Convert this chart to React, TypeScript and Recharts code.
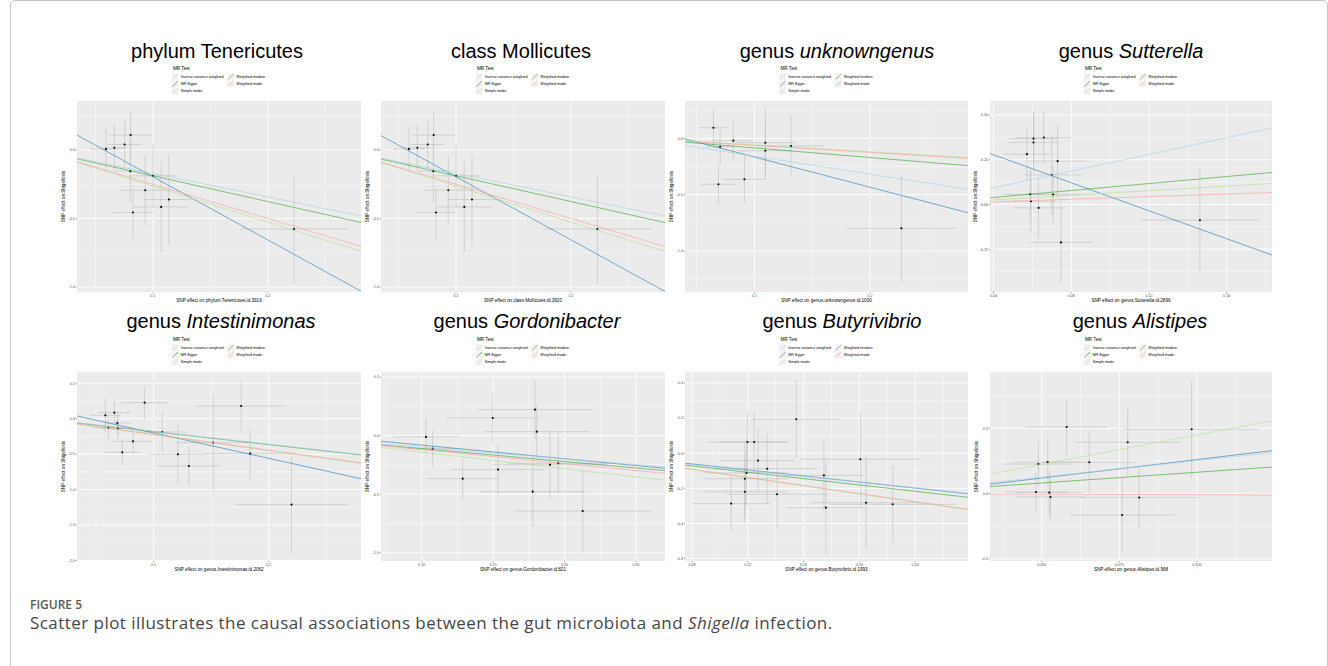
import { CartesianGrid, ErrorBar, Scatter, ScatterChart, XAxis, YAxis } from 'recharts'

const methods = ['Inverse variance weighted', 'MR Egger', 'Simple mode', 'Weighted median', 'Weighted mode']
const methodColors = ['#a6cee3', '#1f78b4', '#b2df8a', '#33a02c', '#fb9a99']
// lines are drawn in the order mr() returns them
const drawOrder = [1, 3, 0, 2, 4]

const ranks = ['phylum', 'class', 'genus', 'genus', 'genus', 'genus', 'genus', 'genus']
const taxa = ['Tenericutes', 'Mollicutes', 'unknowngenus', 'Sutterella', 'Intestinimonas', 'Gordonibacter', 'Butyrivibrio', 'Alistipes']
const exposures = [
  'phylum.Tenericutes.id.3919',
  'class.Mollicutes.id.3920',
  'genus.unknowngenus.id.1000',
  'genus.Sutterella.id.2896',
  'genus.Intestinimonas.id.2062',
  'genus.Gordonibacter.id.821',
  'genus.Butyrivibrio.id.1993',
  'genus.Alistipes.id.968',
]

// [beta exposure, beta outcome, se exposure, se outcome]
const tenericutesSnps = [
  [0.0591, 0.007, 0.0138, 0.16],
  [0.0664, 0.017, 0.011, 0.17],
  [0.0754, 0.041, 0.0148, 0.175],
  [0.0806, 0.11, 0.0188, 0.18],
  [0.0803, -0.154, 0.013, 0.23],
  [0.1, -0.188, 0.021, 0.23],
  [0.0933, -0.293, 0.022, 0.25],
  [0.0826, -0.456, 0.018, 0.19],
  [0.1072, -0.415, 0.024, 0.33],
  [0.1139, -0.361, 0.021, 0.33],
  [0.2229, -0.576, 0.047, 0.4],
]
const mollicutesSnps = [
  [0.0591, 0.007, 0.0138, 0.16],
  [0.0664, 0.017, 0.011, 0.17],
  [0.0754, 0.041, 0.0148, 0.175],
  [0.0806, 0.11, 0.0188, 0.18],
  [0.0803, -0.154, 0.013, 0.23],
  [0.1, -0.188, 0.021, 0.23],
  [0.0933, -0.293, 0.022, 0.25],
  [0.0826, -0.456, 0.018, 0.19],
  [0.1072, -0.415, 0.024, 0.33],
  [0.1139, -0.361, 0.021, 0.33],
  [0.2229, -0.576, 0.047, 0.4],
]
const unknowngenusSnps = [
  [0.0646, 0.094, 0.013, 0.156],
  [0.0704, -0.075, 0.012, 0.16],
  [0.0818, -0.021, 0.017, 0.17],
  [0.0689, -0.408, 0.015, 0.18],
  [0.0914, -0.364, 0.019, 0.21],
  [0.1095, -0.039, 0.026, 0.3],
  [0.1095, -0.11, 0.024, 0.25],
  [0.1317, -0.068, 0.0285, 0.27],
  [0.2271, -0.799, 0.047, 0.48],
]
const sutterellaSnps = [
  [0.0606, 0.368, 0.0124, 0.14],
  [0.0606, 0.346, 0.013, 0.17],
  [0.0659, 0.374, 0.014, 0.145],
  [0.0572, 0.281, 0.012, 0.15],
  [0.073, 0.242, 0.015, 0.2],
  [0.07, 0.165, 0.015, 0.22],
  [0.0589, 0.057, 0.014, 0.15],
  [0.0707, 0.056, 0.014, 0.16],
  [0.0593, 0.018, 0.013, 0.17],
  [0.0632, -0.019, 0.013, 0.17],
  [0.0747, -0.212, 0.016, 0.225],
  [0.1462, -0.088, 0.03, 0.29],
]
const intestinimonasSnps = [
  [0.0581, 0.047, 0.013, 0.24],
  [0.0659, 0.085, 0.014, 0.17],
  [0.0685, -0.061, 0.012, 0.17],
  [0.0607, -0.132, 0.012, 0.16],
  [0.0691, -0.132, 0.013, 0.17],
  [0.0821, -0.32, 0.017, 0.17],
  [0.0728, -0.475, 0.015, 0.18],
  [0.0922, 0.226, 0.02, 0.235],
  [0.1075, -0.188, 0.022, 0.28],
  [0.1211, -0.503, 0.025, 0.42],
  [0.1306, -0.667, 0.027, 0.27],
  [0.1517, -0.338, 0.031, 0.67],
  [0.176, 0.179, 0.039, 0.35],
  [0.1838, -0.493, 0.04, 0.34],
  [0.2197, -1.212, 0.049, 0.68],
]
const gordonibacterSnps = [
  [0.103, -0.011, 0.023, 0.157],
  [0.1077, -0.111, 0.018, 0.157],
  [0.1287, -0.367, 0.025, 0.175],
  [0.1497, 0.151, 0.033, 0.21],
  [0.1534, -0.29, 0.033, 0.21],
  [0.1793, 0.222, 0.04, 0.25],
  [0.1805, 0.034, 0.037, 0.23],
  [0.1777, -0.478, 0.037, 0.3],
  [0.1898, -0.248, 0.04, 0.3],
  [0.1956, -0.236, 0.035, 0.26],
  [0.2127, -0.643, 0.048, 0.356],
]
const butyrivibrioSnps = [
  [0.1548, 0.194, 0.032, 0.22],
  [0.1198, 0.064, 0.028, 0.17],
  [0.1246, 0.064, 0.025, 0.17],
  [0.1274, -0.042, 0.027, 0.18],
  [0.1339, -0.088, 0.036, 0.2],
  [0.1191, -0.112, 0.03, 0.19],
  [0.1179, -0.145, 0.03, 0.21],
  [0.1179, -0.219, 0.03, 0.18],
  [0.141, -0.234, 0.036, 0.195],
  [0.1081, -0.287, 0.028, 0.157],
  [0.1746, -0.126, 0.028, 0.2],
  [0.2007, -0.034, 0.043, 0.27],
  [0.176, -0.31, 0.028, 0.26],
  [0.2048, -0.282, 0.04, 0.26],
  [0.2239, -0.291, 0.045, 0.22],
]
const alistipesSnps = [
  [0.058, 0.51, 0.0132, 0.21],
  [0.0489, 0.227, 0.011, 0.17],
  [0.0519, 0.243, 0.011, 0.18],
  [0.0653, 0.24, 0.015, 0.24],
  [0.0777, 0.393, 0.017, 0.26],
  [0.0481, 0.013, 0.01, 0.15],
  [0.0524, 0.008, 0.011, 0.17],
  [0.0528, -0.025, 0.011, 0.17],
  [0.0759, -0.163, 0.017, 0.28],
  [0.0814, -0.03, 0.019, 0.24],
  [0.0983, 0.493, 0.022, 0.37],
]

// slopes in the order of `methods`; MR Egger also has an intercept
const slopes = [
  [-1.71, -4.61, -2.63, -1.88, -2.5],
  [-1.71, -4.61, -2.63, -1.88, -2.5],
  [-1.59, -2.68, -0.6, -0.853, -0.625],
  [2.33, -3.91, 0.64, 0.975, 0.365],
  [-1.8, -3.59, -2.26, -1.83, -2.22],
  [-0.99, -1.162, -1.41, -1.106, -1.19],
  [-0.82, -0.86, -1.16, -0.903, -1.148],
  [2.53, 2.83, 4.49, 1.64, -0.08],
]
const eggerIntercepts = [0.266, 0.266, 0.102, 0.434, 0.158, 0.035, 0.008, -0.022]

const xDomains = [
  [0.0339, 0.2812],
  [0.0348, 0.2817],
  [0.04, 0.2847],
  [0.0382, 0.1833],
  [0.0335, 0.28],
  [0.0715, 0.2703],
  [0.075, 0.2779],
  [0.0333, 0.1242],
]
const yDomains = [
  [-1.0366, 0.3585],
  [-1.0366, 0.3585],
  [-1.364, 0.331],
  [-0.489, 0.578],
  [-2.007, 0.658],
  [-1.07, 0.543],
  [-0.614, 0.463],
  [-0.515, 0.931],
]
const xTicks = [
  [0.1, 0.2],
  [0.1, 0.2],
  [0.1, 0.2],
  [0.04, 0.08, 0.12, 0.16],
  [0.1, 0.2],
  [0.1, 0.15, 0.2, 0.25],
  [0.08, 0.12, 0.16, 0.2, 0.24],
  [0.05, 0.075, 0.1],
]
const yTicks = [
  [-1, -0.5, 0],
  [-1, -0.5, 0],
  [-1, -0.5, 0],
  [-0.25, 0, 0.25, 0.5],
  [-2, -1.5, -1, -0.5, 0, 0.5],
  [-1, -0.5, 0, 0.5],
  [-0.6, -0.4, -0.2, 0, 0.2, 0.4],
  [-0.5, 0, 0.5],
]
const xDigits = [1, 1, 1, 2, 1, 2, 2, 3]
const yDigits = [1, 1, 1, 2, 1, 1, 1, 1]

const snpSets = [
  tenericutesSnps,
  mollicutesSnps,
  unknowngenusSnps,
  sutterellaSnps,
  intestinimonasSnps,
  gordonibacterSnps,
  butyrivibrioSnps,
  alistipesSnps,
]

// layout
const plotLefts = [77, 381, 685, 990]
const plotRights = [361, 665, 968, 1272]
const rowTops = [101, 372]
const rowBottoms = [292, 561]
const titleCenters = [217, 521, 837, 1131, 221, 527, 842, 1140]
const titleBaselines = [57.5, 327.5]
const FONT = '"Liberation Sans", Arial, sans-serif'

function minorValues(ticks: number[], domain: number[]) {
  const step = ticks[1] - ticks[0]
  let v = ticks[0] - step / 2
  while (v - step >= domain[0]) v -= step
  const out: number[] = []
  for (; v <= domain[1]; v += step) if (v >= domain[0]) out.push(v)
  return out
}

const panels = taxa.map((taxon, i) => ({
  rank: ranks[i],
  taxon,
  italic: ranks[i] === 'genus',
  exposure: exposures[i],
  points: snpSets[i].map(([bx, by, sx, sy]) => ({ x: bx, y: by, sx, sy })),
  lines: drawOrder.map((m) => ({
    m,
    data: xDomains[i].map((x) => ({ x, y: (m === 1 ? eggerIntercepts[i] : 0) + slopes[i][m] * x })),
  })),
  xDomain: xDomains[i],
  yDomain: yDomains[i],
  xTicks: xTicks[i],
  yTicks: yTicks[i],
  xDigits: xDigits[i],
  yDigits: yDigits[i],
}))

const Dot = (props: any) => <circle cx={props.cx} cy={props.cy} r={1.05} fill="#000" />
const NoDot = () => <g />

const Y_AXIS_W = 30
const X_AXIS_H = 12

function Panel({ p, left, right, top, bottom }: any) {
  return (
    <div style={{ position: 'absolute', left: left - Y_AXIS_W, top }}>
      <ScatterChart
        width={right - left + Y_AXIS_W}
        height={bottom - top + X_AXIS_H}
        margin={{ top: 0, right: 0, bottom: 0, left: 0 }}
      >
        <CartesianGrid
          fill="#ebebeb"
          stroke="#ffffff"
          strokeWidth={0.45}
          horizontalValues={minorValues(p.yTicks, p.yDomain)}
          verticalValues={minorValues(p.xTicks, p.xDomain)}
        />
        <CartesianGrid stroke="#ffffff" strokeWidth={0.9} horizontalValues={p.yTicks} verticalValues={p.xTicks} />
        <XAxis
          type="number"
          dataKey="x"
          domain={p.xDomain}
          allowDataOverflow
          ticks={p.xTicks}
          interval={0}
          height={X_AXIS_H}
          axisLine={false}
          tickSize={1.2}
          tickMargin={0.8}
          tickLine={{ stroke: '#333333', strokeWidth: 0.5 }}
          tick={{ fontSize: 3.7, fill: '#4d4d4d', fontFamily: FONT }}
          tickFormatter={(v: number) => v.toFixed(p.xDigits)}
        />
        <YAxis
          type="number"
          dataKey="y"
          domain={p.yDomain}
          allowDataOverflow
          ticks={p.yTicks}
          interval={0}
          width={Y_AXIS_W}
          axisLine={false}
          tickSize={1.2}
          tickMargin={0.8}
          tickLine={{ stroke: '#333333', strokeWidth: 0.5 }}
          tick={{ fontSize: 3.7, fill: '#4d4d4d', fontFamily: FONT }}
          tickFormatter={(v: number) => v.toFixed(p.yDigits)}
        />
        <Scatter data={p.points} shape={Dot} isAnimationActive={false}>
          <ErrorBar dataKey="sx" direction="x" width={0} stroke="#bdbdbd" strokeWidth={0.6} />
          <ErrorBar dataKey="sy" direction="y" width={0} stroke="#bdbdbd" strokeWidth={0.6} />
        </Scatter>
        {p.lines.map((l: any) => (
          <Scatter
            key={l.m}
            data={l.data}
            shape={NoDot}
            stroke={methodColors[l.m]}
            line={{ stroke: methodColors[l.m], strokeWidth: 0.75, strokeOpacity: 0.8 }}
            lineType="joint"
            isAnimationActive={false}
          />
        ))}
      </ScatterChart>
    </div>
  )
}

function Legend({ cx, top }: { cx: number; top: number }) {
  const cols = [
    { keyX: cx - 47.3, items: [0, 1, 2] },
    { keyX: cx + 8.3, items: [3, 4] },
  ]
  return (
    <g>
      <text x={cx - 46} y={top - 32.7} dy="0.35em" fontSize={4.6} fontFamily={FONT} fill="#000">
        MR Test
      </text>
      {cols.map((c) =>
        c.items.map((m, r) => {
          const cy = top - 24.3 + r * 7.1
          return (
            <g key={m}>
              <rect x={c.keyX} y={cy - 3.5} width={7} height={7} fill="#f2f2f2" />
              <line x1={c.keyX + 0.7} y1={cy + 2.8} x2={c.keyX + 6.3} y2={cy - 2.8} stroke={methodColors[m]} strokeWidth={0.75} strokeOpacity={0.8} />
              <text x={c.keyX + 9} y={cy} dy="0.35em" fontSize={3.7} fontFamily={FONT} fill="#000">
                {methods[m]}
              </text>
            </g>
          )
        }),
      )}
    </g>
  )
}

export default function App() {
  return (
    <div style={{ position: 'absolute', left: 0, top: 0, width: 1328, height: 666, background: '#fff', overflow: 'hidden' }}>
      <div
        style={{
          position: 'absolute',
          left: 10,
          top: 0,
          width: 1316,
          height: 700,
          border: '1px solid #c4c4c4',
          borderRadius: 5,
        }}
      />
      {panels.map((p, i) => {
        const col = i % 4
        const row = Math.floor(i / 4)
        return (
          <Panel key={i} p={p} left={plotLefts[col]} right={plotRights[col]} top={rowTops[row]} bottom={rowBottoms[row]} />
        )
      })}
      <svg width={1328} height={666} style={{ position: 'absolute', left: 0, top: 0, pointerEvents: 'none' }}>
        {panels.map((p, i) => {
          const col = i % 4
          const row = Math.floor(i / 4)
          const l = plotLefts[col]
          const r = plotRights[col]
          const t = rowTops[row]
          const b = rowBottoms[row]
          const mid = (l + r) / 2
          const yGap = 12 + 1.5 * p.yDigits
          return (
            <g key={i}>
              <text x={titleCenters[i]} y={titleBaselines[row]} textAnchor="middle" fontSize={20} fontFamily={FONT} fill="#000">
                {p.rank}{' '}
                <tspan fontStyle={p.italic ? 'italic' : 'normal'}>{p.taxon}</tspan>
              </text>
              <Legend cx={mid} top={t} />
              <text x={mid} y={b + 8.3} dy="0.35em" textAnchor="middle" fontSize={4.6} fontFamily={FONT} fill="#000">
                SNP effect on {p.exposure}
              </text>
              <text
                x={l - yGap}
                y={(t + b) / 2}
                dy="0.35em"
                textAnchor="middle"
                fontSize={4.6}
                fontFamily={FONT}
                fill="#000"
                transform={`rotate(-90 ${l - yGap} ${(t + b) / 2})`}
              >
                SNP effect on Shigellosis
              </text>
            </g>
          )
        })}
      </svg>
      <div style={{ position: 'absolute', left: 30, top: 597, fontFamily: '"Open Sans", sans-serif', color: '#5a5a5a', fontSize: 12, fontWeight: 600, lineHeight: '16px' }}>
        FIGURE 5
      </div>
      <div style={{ position: 'absolute', left: 30, top: 612, fontFamily: '"Open Sans", sans-serif', color: '#454545', fontSize: 17, letterSpacing: 0.45, lineHeight: '22px', whiteSpace: 'nowrap' }}>
        Scatter plot illustrates the causal associations between the gut microbiota and <i>Shigella</i> infection.
      </div>
    </div>
  )
}
